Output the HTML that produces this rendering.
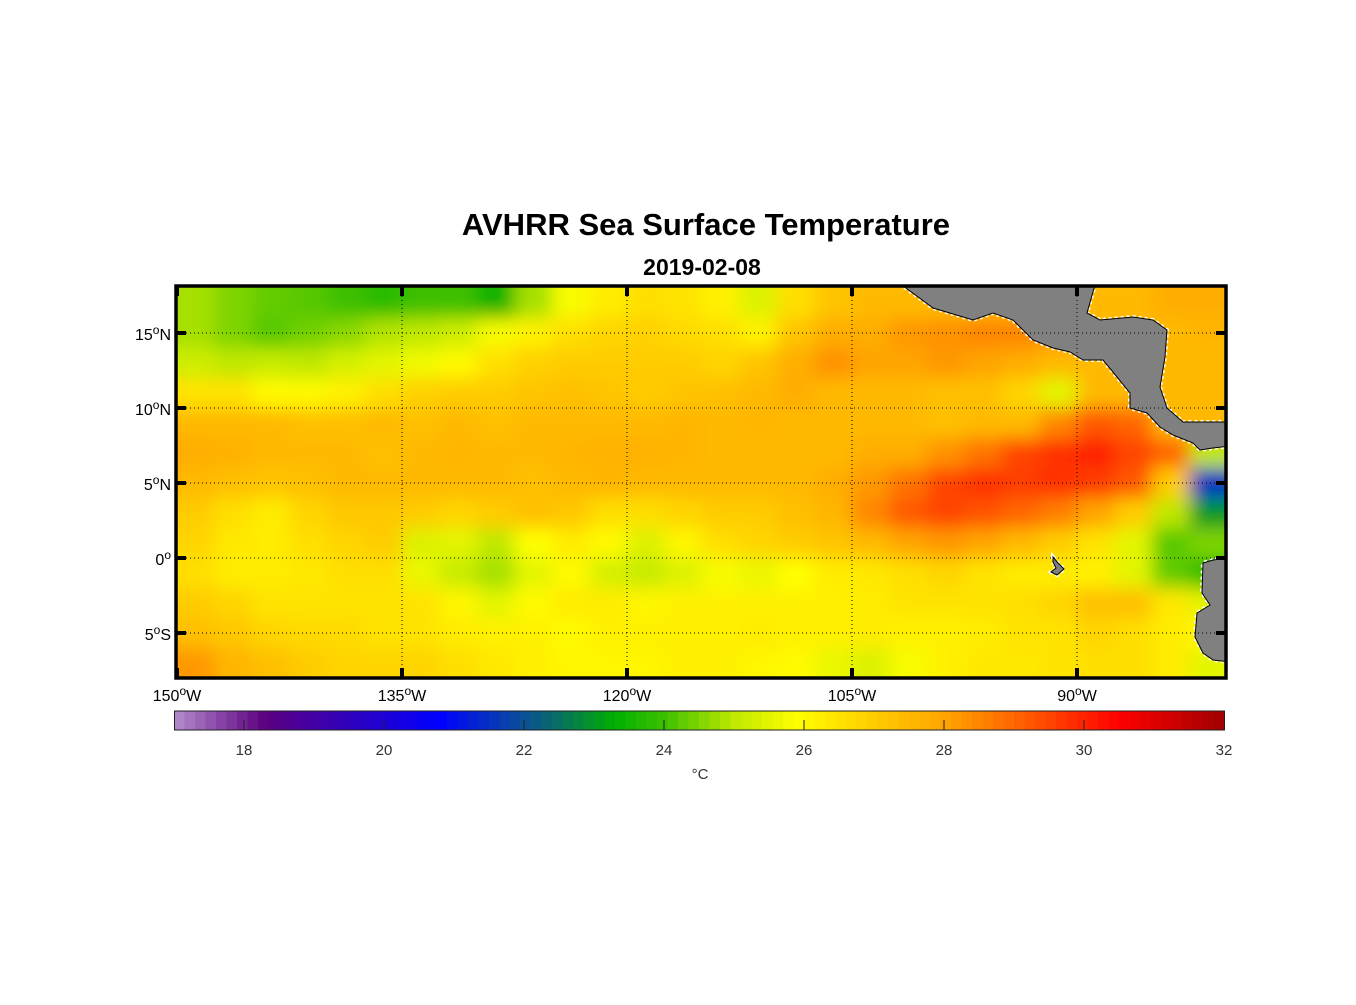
<!DOCTYPE html>
<html><head><meta charset="utf-8"><style>
html,body{margin:0;padding:0;background:#fff;}
svg text{font-family:"Liberation Sans",Arial,sans-serif;}
</style></head><body>
<svg id="chart" width="1356" height="1000" viewBox="0 0 1356 1000" xmlns="http://www.w3.org/2000/svg">
<defs>
<clipPath id="mapclip"><rect x="177" y="287" width="1049" height="391"/></clipPath>
<filter id="smooth" x="177" y="287" width="1049" height="391" filterUnits="userSpaceOnUse">
<feGaussianBlur stdDeviation="9" edgeMode="duplicate"/>
</filter>
</defs>
<text x="706" y="235" text-anchor="middle" font-size="31" font-weight="bold">AVHRR Sea Surface Temperature</text>
<text x="702" y="275" text-anchor="middle" font-size="23" font-weight="bold">2019-02-08</text>
<g clip-path="url(#mapclip)">
<g id="heat" filter="url(#smooth)"></g>
<g id="land"></g>
</g>
<g id="grid"></g>
<rect x="176" y="286" width="1050" height="392" fill="none" stroke="#000" stroke-width="3.5"/>
<g id="ticks"></g>
<g id="cbar"></g>
<text x="700" y="779" text-anchor="middle" font-size="15" fill="#333">°C</text>
</svg>
<script>
const lonStarts=[150,147.5,145,142.5,140,137.5,135,132.5,130,127.5,125,122.5,120,117.5,115,112.5,110,107.5,105,102.5,100,97.5,95,92.5,90,87.5,85,82.5];
const latCenters=[17,15,13,11,9,7,5,3,1,-1,-3,-5,-7];
const sst=[
[24.8,24.5,24.3,24.2,24.0,23.8,24.0,24.0,23.4,24.8,25.8,26.3,26.6,26.5,26.2,25.4,26.6,27.2,27.5,27.5,27.5,27.5,27.5,27.5,27.5,27.5,27.8,27.8],
[24.8,24.5,24.2,24.4,24.6,24.9,25.0,25.2,25.8,26.2,26.6,26.8,26.9,26.7,26.6,26.2,27.2,27.8,27.8,28.2,28.3,28.5,28.5,28.2,27.5,27.5,27.5,27.6],
[25.2,25.0,25.1,25.0,25.3,25.5,25.7,26.0,26.6,26.9,27.0,27.0,27.0,27.0,26.8,27.2,27.8,28.3,28.0,28.0,28.2,28.0,27.8,27.5,27.5,27.5,27.5,27.5],
[26.5,26.5,26.0,26.0,26.2,26.6,26.9,27.0,27.0,27.2,27.3,27.2,27.0,27.2,27.3,27.5,27.8,27.5,27.5,27.5,27.3,27.3,26.8,25.5,27.5,27.5,27.5,27.5],
[27.5,27.5,27.5,27.3,27.3,27.5,27.3,27.5,27.3,27.5,27.5,27.5,27.5,27.6,27.5,27.6,27.5,27.5,27.5,27.5,27.3,27.5,27.5,28.5,29.2,29.0,27.5,27.5],
[27.8,27.7,27.5,27.5,27.5,27.3,27.5,27.6,27.5,27.5,27.6,27.7,27.7,27.6,27.5,27.5,27.5,27.5,27.8,27.8,28.3,28.8,29.5,29.8,30.0,29.5,29.0,25.0],
[27.5,27.3,27.2,27.3,27.5,27.5,27.5,27.5,27.5,27.3,27.5,27.6,27.5,27.5,27.5,27.5,27.5,27.8,28.2,28.8,29.5,29.8,29.6,29.8,29.6,29.2,27.0,21.5],
[27.0,26.6,26.3,26.8,27.1,27.1,27.0,26.8,27.0,27.3,27.1,26.6,26.6,26.8,27.0,27.0,27.3,27.6,28.5,29.2,29.5,29.3,29.0,28.6,28.0,27.0,25.0,23.0],
[26.8,26.4,26.3,26.6,26.8,27.0,25.4,25.5,25.0,25.9,26.3,26.0,25.4,26.1,26.6,26.8,27.0,27.2,27.5,28.0,28.2,28.0,27.5,27.0,26.5,25.5,24.2,24.5],
[26.6,26.3,26.3,26.4,26.6,26.6,25.6,25.1,24.8,25.5,26.0,25.3,25.1,25.4,25.8,25.6,25.9,26.3,26.4,26.6,26.8,26.5,26.3,26.3,26.2,25.5,24.3,23.8],
[27.0,26.8,26.5,26.5,26.5,26.5,26.5,26.1,25.5,26.0,26.3,26.3,26.1,26.2,26.2,26.2,26.2,26.2,26.3,26.5,26.5,26.5,26.6,26.8,27.3,27.3,26.4,25.5],
[27.3,27.1,26.8,26.7,26.7,26.5,26.5,26.3,26.2,26.2,26.0,26.2,26.2,26.2,26.2,26.3,26.2,26.2,26.3,26.2,26.2,26.3,26.5,26.5,26.8,26.6,26.3,26.0],
[28.2,27.6,27.3,27.0,26.8,26.8,26.8,26.6,26.4,26.2,26.1,26.1,26.1,26.2,26.2,26.1,26.0,25.6,25.4,25.8,26.2,26.4,26.4,26.5,26.6,26.6,26.3,25.5]
];
const lonTicks=[150,135,120,105,90];
const latTicks=[15,10,5,0,-5];
const cbTicks=[18,20,22,24,26,28,30,32];
const NS='http://www.w3.org/2000/svg';
const X=lon=>177+(150-lon)*15;
const Y=lat=>558-lat*15;
const CX=v=>174+(v-17)*70;
const stops=[[17,[180,140,204]],[18.3,[92,0,128]],[20.8,[0,0,255]],[22,[10,80,150]],[22.5,[8,112,96]],[23.3,[0,176,0]],[24,[60,192,0]],[25,[192,232,0]],[25.9,[255,255,0]],[27,[255,204,0]],[28,[255,165,0]],[29,[255,102,0]],[30.5,[255,0,0]],[32,[160,0,0]]];
function cmap(v){
  if(v<=stops[0][0])return 'rgb('+stops[0][1]+')';
  for(let i=1;i<stops.length;i++){if(v<=stops[i][0]){const a=stops[i-1],b=stops[i];const t=(v-a[0])/(b[0]-a[0]);return 'rgb('+a[1].map((c,k)=>Math.round(c+(b[1][k]-c)*t)).join(',')+')';}}
  return 'rgb('+stops[stops.length-1][1]+')';
}
function mk(tag,attrs,parent){const e=document.createElementNS(NS,tag);for(const k in attrs)e.setAttribute(k,attrs[k]);parent.appendChild(e);return e;}
const heat=document.getElementById('heat');
sst.forEach((row,r)=>row.forEach((v,c)=>{
  const x0=X(lonStarts[c]),x1=X(lonStarts[c]-2.5);
  const y0=Y(latCenters[r]+1),y1=Y(latCenters[r]-1);
  const e=mk('rect',{x:x0-20*(c==0),y:y0-20*(r==0),width:x1-x0+0.6+20*(c==0)+20*(c==row.length-1),height:y1-y0+0.6+20*(r==0)+20*(r==sst.length-1),fill:cmap(v)},heat);
  
  
}));
const land=document.getElementById('land');
const polys=[
"895,280 933,308 973,320 993,313 1013,320 1033,340 1053,348 1070,352 1083,360 1103,360 1117,377 1130,393 1130,408 1147,413 1160,427 1173,435 1193,443 1200,450 1213,448 1230,446 1230,422 1213,422 1183,422 1167,408 1160,387 1165,357 1167,330 1153,320 1133,317 1100,320 1087,313 1095,285 1095,280",
"1213,560 1203,563 1202,593 1210,605 1197,613 1195,637 1203,653 1213,660 1230,662 1230,558",
"1053,557 1058,563 1064,569 1057,575 1051,572 1056,568 1053,562"
];
polys.forEach((p,i)=>{
  const w=mk('polygon',{points:p,fill:'none',stroke:'#fff','stroke-width':4,'stroke-dasharray':'3 3'},land);
  
  
  const e=mk('polygon',{points:p,fill:'#808080',stroke:'#000','stroke-width':1},land);
  
  
});
const grid=document.getElementById('grid'),ticks=document.getElementById('ticks');
lonTicks.forEach(l=>{
  if(l<150){const g=mk('line',{x1:X(l),x2:X(l),y1:288,y2:677,stroke:'#000','stroke-width':1,'stroke-dasharray':'1 3'},grid);
  }
  [[286,296],[668,678]].forEach(s=>{const t=mk('line',{x1:X(l),x2:X(l),y1:s[0],y2:s[1],stroke:'#000','stroke-width':4},ticks);
  });
  const tx=mk('text',{x:X(l),y:701,'text-anchor':'middle','font-size':16},ticks);
  
  tx.innerHTML=l+'<tspan dy="-6" font-size="12">o</tspan><tspan dy="6">W</tspan>';
});
latTicks.forEach(l=>{
  const g=mk('line',{x1:178,x2:1225,y1:Y(l),y2:Y(l),stroke:'#000','stroke-width':1,'stroke-dasharray':'1 3'},grid);
  
  [[176,186],[1216,1226]].forEach(s=>{const t=mk('line',{x1:s[0],x2:s[1],y1:Y(l),y2:Y(l),stroke:'#000','stroke-width':4},ticks);
  });
  const tx=mk('text',{x:171,y:Y(l)+7,'text-anchor':'end','font-size':16},ticks);
  
  const hem=l>0?'N':(l<0?'S':'');
  tx.innerHTML=Math.abs(l)+'<tspan dy="-6" font-size="12">o</tspan>'+(hem?'<tspan dy="6">'+hem+'</tspan>':'');
});
const cbar=document.getElementById('cbar');
for(let v=17;v<32-1e-6;v+=0.15){
  const e=mk('rect',{x:CX(v),y:711,width:0.15*70+0.5,height:19,fill:cmap(v+0.075)},cbar);
  
}
const fr=mk('rect',{x:174.5,y:711,width:1050,height:19,fill:'none',stroke:'#222','stroke-width':1},cbar);

cbTicks.forEach(v=>{
  if(v<32){const t=mk('line',{x1:CX(v),x2:CX(v),y1:720,y2:730,stroke:'#222','stroke-width':1},cbar);
  }
  const tx=mk('text',{x:CX(v),y:755,'text-anchor':'middle','font-size':15,fill:'#333'},cbar);
  
  tx.textContent=v;
});
</script>
</body></html>
